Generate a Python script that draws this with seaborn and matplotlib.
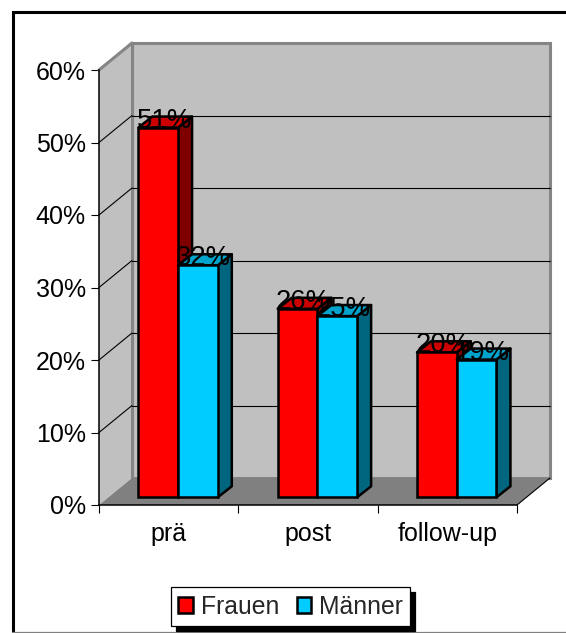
import pandas as pd
import matplotlib
matplotlib.use('Agg')
import matplotlib.pyplot as plt
from matplotlib.lines import Line2D
from matplotlib.patches import Polygon
import seaborn as sns

# --- data ---
phases = ['prä', 'post', 'follow-up']
frauen = [51, 26, 20]
maenner = [32, 25, 19]
y_ticks = [0, 10, 20, 30, 40, 50, 60]

df = pd.DataFrame({
    'phase': phases * 2,
    'gruppe': ['Frauen'] * 3 + ['Männer'] * 3,
    'wert': frauen + maenner,
})

W, H = 566, 633
sns.set_style('white')
plt.rcParams['font.family'] = ['Liberation Sans', 'DejaVu Sans']

fig = plt.figure(figsize=(W / 100, H / 100), dpi=100, facecolor='white')

# outer frame: no right edge in the picture, bottom edge is thin and grey
fig.add_artist(Line2D([12.5 / W, 12.5 / W, 1], [0, (H - 12) / H, (H - 12) / H], color='black',
                      lw=2.2, solid_joinstyle='miter', transform=fig.transFigure))
fig.add_artist(Line2D([12 / W, 1], [0.6 / H, 0.6 / H], color='#808080', lw=0.9, transform=fig.transFigure))

# front plane of the 3d box, in pixels
x0, x1, y_base, y_top = 99, 517, 505, 70
px_cat = (x1 - x0) / 3
px_val = (y_base - y_top) / 60
wall_dx, wall_dy = 33 / px_cat, 27 / px_val
bar_dx, bar_dy = 14 / px_cat, 11 / px_val

ax = fig.add_axes([x0 / W, (H - y_base) / H, (x1 - x0) / W, (y_base - y_top) / H])
ax.set_xlim(-0.5, 2.5)
ax.set_ylim(0, 60)
ax.patch.set_visible(False)
for s in ['top', 'right']:
    ax.spines[s].set_visible(False)
for s in ['left', 'bottom']:
    ax.spines[s].set_linewidth(1.1)
    ax.spines[s].set_color('black')
    ax.spines[s].set_zorder(6)

# walls and floor
ax.add_patch(Polygon([(-0.5 + wall_dx, wall_dy), (2.5 + wall_dx, wall_dy), (2.5 + wall_dx, 60 + wall_dy),
                      (-0.5 + wall_dx, 60 + wall_dy)], facecolor='#C0C0C0', edgecolor='#858585',
                     linewidth=2.2, clip_on=False, zorder=1))
ax.add_patch(Polygon([(-0.5, 0), (-0.5 + wall_dx, wall_dy), (-0.5 + wall_dx, 60 + wall_dy), (-0.5, 60)],
                     facecolor='#C0C0C0', edgecolor='none', clip_on=False, zorder=1.5))
ax.plot([-0.5, -0.5 + wall_dx], [60, 60 + wall_dy], color='#858585', lw=2.2, clip_on=False, zorder=1.6,
        solid_capstyle='round')
ax.plot([-0.5 + wall_dx] * 2, [wall_dy, 60 + wall_dy], color='#858585', lw=2.2, clip_on=False, zorder=1.6)
ax.add_patch(Polygon([(-0.5, 0), (2.5, 0), (2.5 + wall_dx, wall_dy), (-0.5 + wall_dx, wall_dy)],
                     facecolor='#808080', edgecolor='none', clip_on=False, zorder=2))
ax.plot([2.5, 2.5 + wall_dx], [0, wall_dy], color='black', lw=0.8, clip_on=False, zorder=3)

# grid on back and side wall
for v in y_ticks[1:-1]:
    ax.plot([-0.5 + wall_dx, 2.5 + wall_dx], [v + wall_dy, v + wall_dy], color='black', lw=0.8,
            clip_on=False, zorder=2)
    ax.plot([-0.5, -0.5 + wall_dx], [v, v + wall_dy], color='black', lw=0.8, clip_on=False, zorder=2)

ax.set_yticks(y_ticks)
ax.set_yticklabels([f'{v}%' for v in y_ticks], fontsize=18, color='black')
ax.set_xticks([-0.5, 0.5, 1.5, 2.5])
ax.set_xticklabels([])
ax.set_xticks([0, 1, 2], minor=True)
ax.set_xticklabels(phases, minor=True, fontsize=18, color='black')
ax.tick_params(axis='both', which='major', length=5.5, width=0.8, color='black', left=True, bottom=True, pad=4)
ax.tick_params(axis='x', which='minor', length=0, pad=12)

# bars live on an overlay axes shifted into the middle of the box depth
off_x, off_y = 9.4, 7.7
ax_bars = fig.add_axes([(x0 + off_x) / W, (H - y_base + off_y) / H, (x1 - x0) / W, (y_base - y_top) / H])
sns.barplot(data=df, x='phase', y='wert', hue='gruppe', order=phases, hue_order=['Frauen', 'Männer'],
            palette=['#FF0000', '#00CCFF'], saturation=1, width=0.57, gap=0, errorbar=None,
            edgecolor='black', linewidth=1.8, ax=ax_bars)
ax_bars.set_xlim(-0.5, 2.5)
ax_bars.set_ylim(0, 60)

handles, labels = ax_bars.get_legend_handles_labels()
ax_bars.get_legend().remove()
ax_bars.axis('off')

side_cols = ['#800000', '#006680']
top_cols = ['#CC0000', '#00A3CC']
for i, cont in enumerate(ax_bars.containers):
    for rect in cont:
        l, r = rect.get_x(), rect.get_x() + rect.get_width()
        h = rect.get_height()
        z = 2 + i
        rect.set_zorder(z + 0.5)
        rect.set_clip_on(False)
        ax_bars.add_patch(Polygon([(r, 0), (r + bar_dx, bar_dy), (r + bar_dx, h + bar_dy), (r, h)],
                                  facecolor=side_cols[i], edgecolor='black', linewidth=1.8,
                                  joinstyle='round', clip_on=False, zorder=z))
        ax_bars.add_patch(Polygon([(l, h), (l + bar_dx, h + bar_dy), (r + bar_dx, h + bar_dy), (r, h)],
                                  facecolor=top_cols[i], edgecolor='black', linewidth=1.8,
                                  joinstyle='round', clip_on=False, zorder=z))
        ax_bars.text((l + r) / 2 + 6 / px_cat, h, f'{int(h)}%', ha='center', va='baseline',
                     fontsize=19.8, color='black', zorder=10, clip_on=False)

leg = fig.legend(handles, labels, loc='lower left', bbox_to_anchor=(171 / W, (H - 626) / H),
                 borderaxespad=0, ncol=2, fontsize=17.8, frameon=True, fancybox=False, framealpha=1,
                 facecolor='white', edgecolor='black', borderpad=0.3, handlelength=0.58,
                 handleheight=0.58, handletextpad=0.33, columnspacing=0.7,
                 shadow={'ox': 3.6, 'oy': -3.6, 'color': 'black', 'alpha': 1})
leg.get_frame().set_linewidth(0.9)
for p in leg.get_patches():
    p.set_linewidth(1.8)

fig.savefig('out.png', dpi=100, facecolor='white')
